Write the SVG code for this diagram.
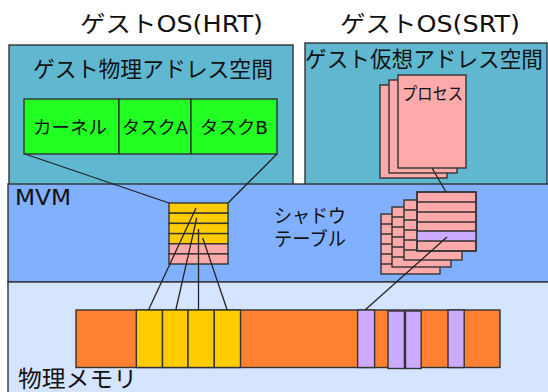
<svg xmlns="http://www.w3.org/2000/svg" width="548" height="392" viewBox="0 0 548 392">
<style>
text{font-family:"DejaVu Sans","Noto Sans CJK JP",sans-serif;fill:#111}
.bd{stroke:#333;stroke-width:1.4}
.teal{fill:#60B8D0}
.grn{fill:#22FF22}
.yel{fill:#FFCC00}
.pnk{fill:#FFAAAA}
.pur{fill:#CCAAFF}
.org{fill:#FF8030}
.ln{stroke:#222;stroke-width:1.3;fill:none}
</style>
<rect width="548" height="392" fill="#fff"/>
<g id="hrt-title"><text x="80" y="32" font-size="23" textLength="183" lengthAdjust="spacingAndGlyphs">ゲストOS(HRT)</text></g>
<g id="srt-title"><text x="340" y="32" font-size="23" textLength="180" lengthAdjust="spacingAndGlyphs">ゲストOS(SRT)</text></g>
<g id="guest-phys">
<rect class="teal bd" x="9" y="45" width="284" height="150"/>
<text x="33" y="76.5" font-size="22" textLength="240" lengthAdjust="spacingAndGlyphs">ゲスト物理アドレス空間</text>
</g>
<g id="guest-virt">
<rect class="teal bd" x="305" y="43" width="242" height="152"/>
<text x="305" y="66.5" font-size="22" textLength="238" lengthAdjust="spacingAndGlyphs">ゲスト仮想アドレス空間</text>
</g>
<g id="kernel"><rect class="grn bd" x="24" y="99" width="95" height="55"/><text x="33" y="133.5" font-size="18.5" textLength="74" lengthAdjust="spacingAndGlyphs">カーネル</text></g>
<g id="taskA"><rect class="grn bd" x="119" y="99" width="72" height="55"/><text x="122" y="133.5" font-size="18.5" textLength="66" lengthAdjust="spacingAndGlyphs">タスクA</text></g>
<g id="taskB"><rect class="grn bd" x="191" y="99" width="86" height="55"/><text x="200" y="133.5" font-size="18.5" textLength="68" lengthAdjust="spacingAndGlyphs">タスクB</text></g>
<g id="process">
<rect class="pnk bd" x="380" y="85" width="67" height="93"/>
<rect class="pnk bd" x="389" y="80" width="68" height="93"/>
<rect class="pnk bd" x="398" y="75" width="68" height="93"/>
<text x="402" y="99.5" font-size="17" textLength="61" lengthAdjust="spacingAndGlyphs">プロセス</text>
</g>
<g id="mvm">
<rect x="8" y="184" width="541" height="98" fill="#80B0FF" class="bd"/>
<text x="15" y="204.5" font-size="20.5" textLength="56" lengthAdjust="spacingAndGlyphs">MVM</text>
<text x="274" y="223" font-size="19" textLength="72" lengthAdjust="spacingAndGlyphs">シャドウ</text>
<text x="274" y="246" font-size="19" textLength="72" lengthAdjust="spacingAndGlyphs">テーブル</text>
</g>
<g id="phys-mem">
<rect x="8" y="282" width="541" height="112" fill="#D5E5FF" class="bd"/>
<text x="18" y="387" font-size="23" textLength="119" lengthAdjust="spacingAndGlyphs">物理メモリ</text>
</g>
<g id="page-table">
<rect class="yel bd" x="169" y="203" width="59" height="10.2"/>
<rect class="yel bd" x="169" y="213.2" width="59" height="10.2"/>
<rect class="yel bd" x="169" y="223.4" width="59" height="10.2"/>
<rect class="yel bd" x="169" y="233.6" width="59" height="10.2"/>
<rect class="pnk bd" x="169" y="243.8" width="59" height="10.1"/>
<rect class="pnk bd" x="169" y="253.9" width="59" height="10.1"/>
</g>
<g id="shadow-tables">
<g><rect class="pnk bd" x="381" y="214" width="59" height="60"/>
<path class="bd" d="M381 224h59M381 234h59M381 244h59M381 254h59M381 264h59"/></g>
<g><rect class="pnk bd" x="392" y="207" width="59" height="60"/>
<path class="bd" d="M392 217h59M392 227h59M392 237h59M392 247h59M392 257h59"/></g>
<g><rect class="pnk bd" x="404" y="200" width="58" height="60"/>
<path class="bd" d="M404 210h58M404 220h58M404 230h58M404 240h58M404 250h58"/></g>
<g><rect class="pnk bd" x="417" y="192" width="59" height="59"/>
<rect class="pur" x="417" y="231" width="59" height="10"/>
<path class="bd" d="M417 202h59M417 212h59M417 222h59M417 231h59M417 241h59"/>
<rect class="bd" fill="none" x="417" y="192" width="59" height="59"/></g>
</g>
<g id="memory-bar">
<rect class="org bd" x="76" y="310" width="424" height="57.5"/>
<rect class="yel bd" x="136.3" y="310" width="26.2" height="57.5"/>
<rect class="yel bd" x="162.5" y="310" width="25.5" height="57.5"/>
<rect class="yel bd" x="188" y="310" width="26.3" height="57.5"/>
<rect class="yel bd" x="214.3" y="310" width="26.2" height="57.5"/>
<rect class="pur bd" x="357.6" y="310" width="17" height="57.5"/>
<rect class="pur bd" x="388" y="311" width="16.4" height="57.5"/>
<rect class="pur bd" x="405.5" y="311" width="15.7" height="57.5"/>
<rect class="pur bd" x="448" y="310" width="16.2" height="57.5"/>
</g>
<g id="connectors">
<line class="ln" x1="25" y1="154" x2="169" y2="203"/>
<line class="ln" x1="277" y1="154" x2="228" y2="203"/>
<line class="ln" x1="432" y1="168" x2="446" y2="192"/>
<line class="ln" x1="196" y1="208" x2="148.5" y2="310"/>
<line class="ln" x1="196.7" y1="218" x2="175.8" y2="310"/>
<line class="ln" x1="198.5" y1="229" x2="198.5" y2="310"/>
<line class="ln" x1="202.7" y1="238" x2="227.2" y2="310"/>
<line class="ln" x1="447" y1="237" x2="365" y2="310"/>
</g>
</svg>
